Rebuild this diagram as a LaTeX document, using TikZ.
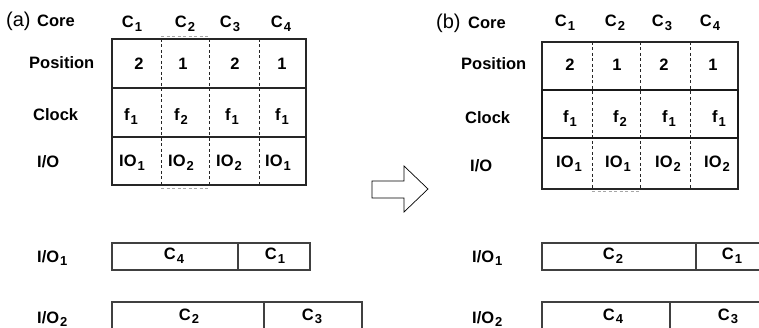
\documentclass[tikz,border=0pt]{standalone}
\usepackage{fontspec}
\setmainfont{Liberation Sans}
\newcommand\sbx[1]{\kern1pt\raisebox{-3.5pt}{\fontsize{13}{13}\selectfont #1}}
\begin{document}
\begin{tikzpicture}[x=1pt,y=-1pt,
  t/.style={font=\fontsize{16.5}{17}\selectfont\bfseries, inner sep=0pt, anchor=base},
  tl/.style={t, anchor=base west},
  big/.style={font=\fontsize{20}{20}\selectfont, inner sep=0pt, anchor=base west},
  frame/.style={draw=black!85, line width=1.1pt},
  thickframe/.style={draw=black!90, line width=1.9pt},
  dsh/.style={draw=black!85, line width=0.9pt, dash pattern=on 3pt off 2.5pt},
  faint/.style={draw=black!35, line width=0.9pt, dash pattern=on 3pt off 2.5pt},
  bar/.style={draw=black!75, line width=1.4pt},
  arr/.style={draw=black, line width=0.7pt, fill=white}]
\useasboundingbox (0,0) rectangle (759,328);
\clip (0,0) rectangle (759,328);
% ---------- (a) ----------
\node[big] (la) at (6,27) {(a)};
\node[tl] (acore) at (37,27) {Core};
\node[t] (ac1) at (132,28) {C\sbx1};
\node[t] (ac2) at (185,28) {C\sbx2};
\node[t] (ac3) at (230,28) {C\sbx3};
\node[t] (ac4) at (281,28) {C\sbx4};
\node[tl] (apos) at (29,69) {Position};
\node[tl] (aclk) at (33,121) {Clock};
\node[tl] (aio) at (37,168) {I/O};
\draw[frame] (112,39) rectangle (306,185);
\draw[frame] (112,88) -- (306,88);
\draw[frame] (112,137) -- (306,137);
\foreach \x in {161,209,259} \draw[dsh] (\x,39) -- (\x,185);
\draw[faint] (161,36) -- (209,36);
\draw[faint] (161,188) -- (209,188);
\node[t] (ap1) at (139,70) {2};
\node[t] (ap2) at (183,70) {1};
\node[t] (ap3) at (235,70) {2};
\node[t] (ap4) at (282,70) {1};
\node[t] (af1) at (131,121) {f\sbx1};
\node[t] (af2) at (181,121) {f\sbx2};
\node[t] (af3) at (232,121) {f\sbx1};
\node[t] (af4) at (282,121) {f\sbx1};
\node[t] (ai1) at (132,167) {IO\sbx1};
\node[t] (ai2) at (181,167) {IO\sbx2};
\node[t] (ai3) at (229,167) {IO\sbx2};
\node[t] (ai4) at (278,167) {IO\sbx1};
% bars (a)
\node[tl] (aio1) at (37,262) {I/O\sbx1};
\draw[bar] (112,243) rectangle (310,270);
\draw[bar] (238,243) -- (238,270);
\node[t] (ab1) at (174,260) {C\sbx4};
\node[t] (ab2) at (275,260) {C\sbx1};
\node[tl] (aio2) at (37,323) {I/O\sbx2};
\draw[bar] (112,335) -- (112,302) -- (362,302) -- (362,335);
\draw[bar] (264,302) -- (264,335);
\node[t] (ab3) at (189,320) {C\sbx2};
\node[t] (ab4) at (312,320) {C\sbx3};
% ---------- arrow ----------
\draw[arr] (372,181) -- (404,181) -- (404,166) -- (428,189) -- (404,212) -- (404,198) -- (372,198) -- cycle;
% ---------- (b) ----------
\node[big] (lb) at (436,29) {(b)};
\node[tl] (bcore) at (468,29) {Core};
\node[t] (bc1) at (565,27) {C\sbx1};
\node[t] (bc2) at (615,27) {C\sbx2};
\node[t] (bc3) at (662,27) {C\sbx3};
\node[t] (bc4) at (710,27) {C\sbx4};
\node[tl] (bpos) at (461,70) {Position};
\node[tl] (bclk) at (465,124) {Clock};
\node[tl] (bio) at (470,172) {I/O};
\draw[frame] (542,42) rectangle (738,189);
\foreach \x in {592,640,690} \draw[dsh] (\x,42) -- (\x,189);
\draw[thickframe] (542,90) rectangle (738,138);
\draw[dsh] (592,42) -- (640,42);
\draw[faint] (592,191) -- (640,191);
\node[t] (bp1) at (570,71) {2};
\node[t] (bp2) at (617,71) {1};
\node[t] (bp3) at (664,71) {2};
\node[t] (bp4) at (713,71) {1};
\node[t] (bf1) at (570,123) {f\sbx1};
\node[t] (bf2) at (620,123) {f\sbx2};
\node[t] (bf3) at (669,123) {f\sbx1};
\node[t] (bf4) at (719,123) {f\sbx1};
\node[t] (bi1) at (569,168) {IO\sbx1};
\node[t] (bi2) at (618,168) {IO\sbx1};
\node[t] (bi3) at (668,168) {IO\sbx2};
\node[t] (bi4) at (717,168) {IO\sbx2};
% bars (b)
\node[tl] (bio1) at (472,262) {I/O\sbx1};
\draw[bar] (770,243) -- (542,243) -- (542,270) -- (770,270);
\draw[bar] (696,243) -- (696,270);
\node[t] (bb1) at (613,260) {C\sbx2};
\node[t] (bb2) at (732,260) {C\sbx1};
\node[tl] (bio2) at (472,323) {I/O\sbx2};
\draw[bar] (542,335) -- (542,302) -- (770,302);
\draw[bar] (670,302) -- (670,335);
\node[t] (bb3) at (613,320) {C\sbx4};
\node[t] (bb4) at (728,320) {C\sbx3};
\end{tikzpicture}
\end{document}
